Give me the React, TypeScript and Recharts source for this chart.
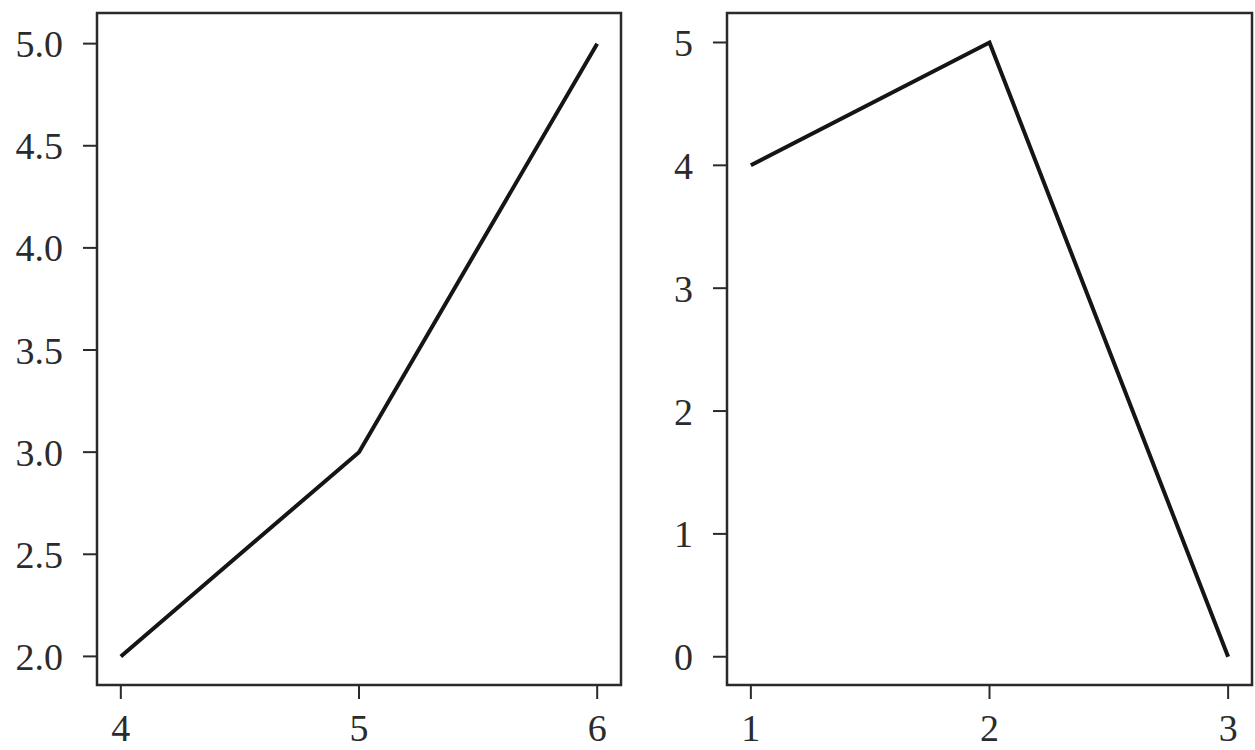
import { LineChart, Line, XAxis, YAxis, ReferenceArea } from "recharts";

// left panel
const leftX = [4, 5, 6];
const leftY = [2, 3, 5];
const leftXTicks = [4, 5, 6];
const leftYTicks = [2.0, 2.5, 3.0, 3.5, 4.0, 4.5, 5.0];

// right panel
const rightX = [1, 2, 3];
const rightY = [4, 5, 0];
const rightXTicks = [1, 2, 3];
const rightYTicks = [0, 1, 2, 3, 4, 5];

const INK = "#2a2a2a";
const FONT = "'Liberation Serif', 'DejaVu Serif', serif";
const tickStyle = { fontSize: 38, fill: "#2b2b2b", fontFamily: FONT };

type PanelProps = {
  xs: number[];
  ys: number[];
  xTicks: number[];
  yTicks: number[];
  xDomain: [number, number];
  yDomain: [number, number];
  yFmt: (v: number) => string;
  width: number;
  yAxisWidth: number;
  rightMargin: number;
};

function Panel(p: PanelProps) {
  const data = p.xs.map((x, i) => ({ x, y: p.ys[i] }));
  return (
    <LineChart
      width={p.width}
      height={750}
      data={data}
      margin={{ top: 13, right: p.rightMargin, left: 0, bottom: 0 }}
    >
      <XAxis
        dataKey="x"
        type="number"
        domain={p.xDomain}
        ticks={p.xTicks}
        allowDataOverflow
        axisLine={false}
        tickLine={{ stroke: INK, strokeWidth: 2 }}
        tickSize={14}
        tickMargin={15}
        height={65}
        tick={tickStyle}
      />
      <YAxis
        type="number"
        domain={p.yDomain}
        ticks={p.yTicks}
        allowDataOverflow
        axisLine={false}
        tickLine={{ stroke: INK, strokeWidth: 2 }}
        tickSize={14}
        tickMargin={20}
        width={p.yAxisWidth}
        tick={tickStyle}
        tickFormatter={p.yFmt}
      />
      <ReferenceArea
        x1={p.xDomain[0]}
        x2={p.xDomain[1]}
        y1={p.yDomain[0]}
        y2={p.yDomain[1]}
        fill="none"
        stroke={INK}
        strokeWidth={2.5}
        ifOverflow="extendDomain"
      />
      <Line
        dataKey="y"
        type="linear"
        stroke="#151515"
        strokeWidth={4}
        dot={false}
        activeDot={false}
        isAnimationActive={false}
      />
    </LineChart>
  );
}

export default function App() {
  return (
    <div
      style={{
        position: "absolute",
        left: 0,
        top: 0,
        width: 1255,
        height: 750,
        background: "#fff",
        fontFamily: FONT,
      }}
    >
      <div style={{ position: "absolute", left: 0, top: 0 }}>
        <Panel
          xs={leftX}
          ys={leftY}
          xTicks={leftXTicks}
          yTicks={leftYTicks}
          xDomain={[3.9, 6.1]}
          yDomain={[1.86, 5.15]}
          yFmt={(v) => v.toFixed(1)}
          width={640}
          yAxisWidth={97}
          rightMargin={19}
        />
      </div>
      <div style={{ position: "absolute", left: 640, top: 0 }}>
        <Panel
          xs={rightX}
          ys={rightY}
          xTicks={rightXTicks}
          yTicks={rightYTicks}
          xDomain={[0.9, 3.1]}
          yDomain={[-0.23, 5.24]}
          yFmt={(v) => String(v)}
          width={615}
          yAxisWidth={87}
          rightMargin={3}
        />
      </div>
    </div>
  );
}
